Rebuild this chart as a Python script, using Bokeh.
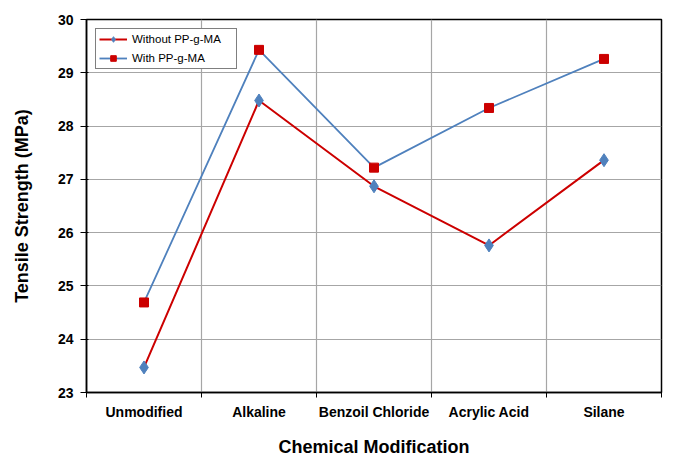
from bokeh.plotting import figure
from bokeh.models import FixedTicker, Range1d, Legend
from bokeh.embed import file_html
from bokeh.resources import INLINE

categories = ["Unmodified", "Alkaline", "Benzoil Chloride", "Acrylic Acid", "Silane"]
without_ppgma = [23.47, 28.48, 26.87, 25.76, 27.36]
with_ppgma = [24.69, 29.43, 27.22, 28.34, 29.26]
y_ticks = [23, 24, 25, 26, 27, 28, 29, 30]

xpos = [i + 0.5 for i in range(len(categories))]
FONT = "Liberation Sans"

p = figure(width=667, height=459, output_backend="svg", toolbar_location=None,
           x_range=Range1d(0, len(categories)), y_range=Range1d(23, 30),
           min_border_left=86, min_border_right=6, min_border_top=19, min_border_bottom=67)
p.background_fill_color = "white"
p.border_fill_color = "white"
p.outline_line_color = "black"
p.outline_line_width = 1.5

# x axis: labels at category centers, ticks at boundaries
p.xaxis.ticker = FixedTicker(ticks=xpos, minor_ticks=list(range(len(categories) + 1)))
p.xaxis.major_label_overrides = {x: c for x, c in zip(xpos, categories)}
p.xaxis.major_tick_in = 0
p.xaxis.major_tick_out = 0
p.xaxis.minor_tick_in = 0
p.xaxis.minor_tick_out = 5
p.xaxis.minor_tick_line_color = "black"
p.xaxis.axis_line_color = "black"
p.xaxis.axis_line_width = 1.5
p.xaxis.major_label_text_font = FONT
p.xaxis.major_label_text_font_style = "bold"
p.xaxis.major_label_text_font_size = "14px"
p.xaxis.major_label_text_color = "black"
p.xaxis.major_label_standoff = 6
p.xaxis.axis_label = "Chemical Modification"
p.xaxis.axis_label_text_font = FONT
p.xaxis.axis_label_text_font_style = "bold"
p.xaxis.axis_label_text_font_size = "18px"
p.xaxis.axis_label_text_color = "black"
p.xaxis.axis_label_standoff = 14

p.yaxis.ticker = FixedTicker(ticks=y_ticks)
p.yaxis.minor_tick_line_color = None
p.yaxis.major_tick_in = 2
p.yaxis.major_tick_out = 6
p.yaxis.major_tick_line_color = "black"
p.yaxis.axis_line_color = "black"
p.yaxis.axis_line_width = 1.5
p.yaxis.major_label_text_font = FONT
p.yaxis.major_label_text_font_style = "bold"
p.yaxis.major_label_text_font_size = "14px"
p.yaxis.major_label_text_color = "black"
p.yaxis.major_label_standoff = 7
p.yaxis.axis_label = "Tensile Strength (MPa)"
p.yaxis.axis_label_text_font = FONT
p.yaxis.axis_label_text_font_style = "bold"
p.yaxis.axis_label_text_font_size = "18px"
p.yaxis.axis_label_text_color = "black"
p.yaxis.axis_label_standoff = 23

p.xgrid.ticker = FixedTicker(ticks=list(range(1, len(categories))))
p.ygrid.ticker = FixedTicker(ticks=y_ticks)
p.xgrid.grid_line_color = "#A6A6A6"
p.ygrid.grid_line_color = "#A6A6A6"
p.xgrid.grid_line_width = 1.2
p.ygrid.grid_line_width = 1.2

RED = "#CC0000"
BLUE = "#4F81BD"

l1 = p.line(xpos, without_ppgma, line_color=RED, line_width=2)
s1 = p.scatter(xpos, without_ppgma, marker="diamond", size=13, fill_color=BLUE, line_color=BLUE)
l2 = p.line(xpos, with_ppgma, line_color=BLUE, line_width=1.8)
s2 = p.scatter(xpos, with_ppgma, marker="square", size=9, fill_color=RED, line_color=RED)

legend = Legend(items=[("Without PP-g-MA", [l1, s1]), ("With PP-g-MA", [l2, s2])],
                location="top_left", margin=9, padding=3, spacing=5,
                glyph_width=28, glyph_height=14, label_height=14, label_width=101,
                label_standoff=5,
                label_text_font=FONT, label_text_font_size="11.5px", label_text_color="black",
                border_line_color="black", border_line_width=1.2, background_fill_alpha=1)
p.add_layout(legend, "center")

open("out.html", "w").write(file_html(p, INLINE))
